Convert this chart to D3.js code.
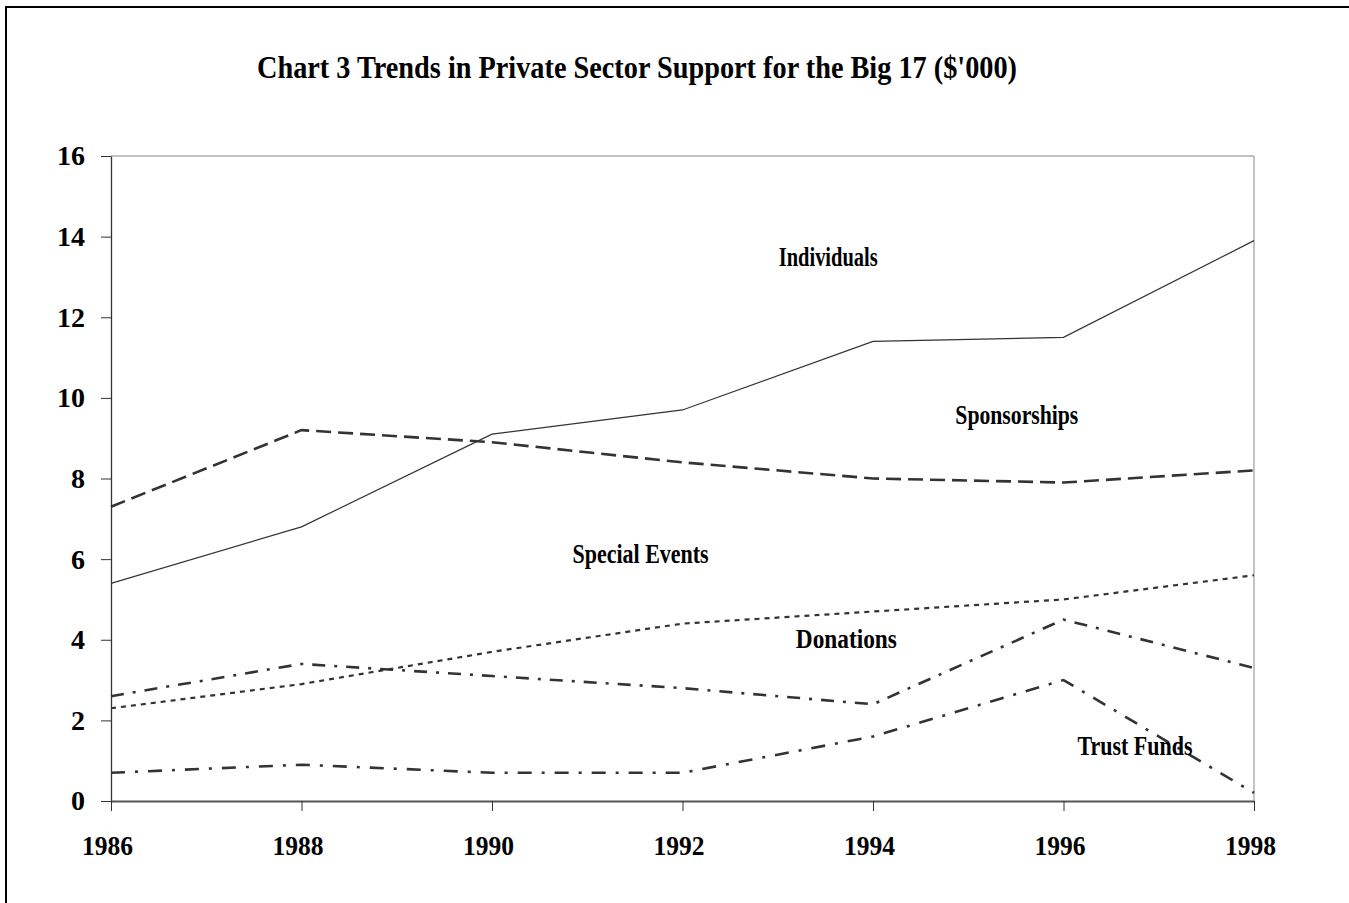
<!DOCTYPE html>
<html>
<head>
<meta charset="utf-8">
<script src="https://cdn.jsdelivr.net/npm/d3@7"></script>
<style>
  body { margin: 0; background: #fff; }
  text { font-family: "Liberation Serif", "Times New Roman", serif; font-weight: bold; fill: #000; }
</style>
</head>
<body>
<div id="chart"></div>
<script>
// data
var years = [1986, 1988, 1990, 1992, 1994, 1996, 1998];
var individuals = [5.4, 6.8, 9.1, 9.7, 11.4, 11.5, 13.9];
var sponsorships = [7.3, 9.2, 8.9, 8.4, 8.0, 7.9, 8.2];
var specialEvents = [2.3, 2.9, 3.7, 4.4, 4.7, 5.0, 5.6];
var donations = [2.6, 3.4, 3.1, 2.8, 2.4, 4.5, 3.3];
var trustFunds = [0.7, 0.9, 0.7, 0.7, 1.6, 3.0, 0.2];
var yTicks = [0, 2, 4, 6, 8, 10, 12, 14, 16];
var seriesNames = ["Individuals", "Sponsorships", "Special Events", "Donations", "Trust Funds"];

var svgWidth = 1349;
var svgHeight = 903;
var plot = { left: 111, right: 1254, top: 156, bottom: 801 };

var svg = d3.select("#chart")
    .append("svg")
    .attr("width", svgWidth)
    .attr("height", svgHeight);

// outer frame (runs off right and bottom edges)
svg.append("rect")
    .attr("x", 6).attr("y", 7)
    .attr("width", 1360).attr("height", 920)
    .attr("fill", "none")
    .attr("stroke", "#000")
    .attr("stroke-width", 2);

var x = d3.scaleLinear().domain([1986, 1998]).range([plot.left, plot.right]);
var y = d3.scaleLinear().domain([0, 16]).range([plot.bottom, plot.top]);

// plot border top/right
svg.append("path")
    .attr("d", `M${plot.left},${plot.top}H${plot.right}V${plot.bottom}`)
    .attr("fill", "none")
    .attr("stroke", "#888")
    .attr("stroke-width", 1);

// y axis
var yAxis = svg.append("g")
    .attr("transform", `translate(${plot.left},0)`)
    .call(d3.axisLeft(y).tickValues(yTicks).tickSize(10).tickPadding(16).tickSizeOuter(0));
yAxis.select(".domain").attr("stroke", "#333").attr("stroke-width", 1.3);
yAxis.selectAll(".tick line").attr("stroke", "#333");
yAxis.selectAll("text")
    .attr("font-family", null)
    .style("font-size", "28px");

// x axis
var xAxis = svg.append("g")
    .attr("transform", `translate(0,${plot.bottom})`)
    .call(d3.axisBottom(x).tickValues(years).tickFormat(d3.format("d")).tickSize(10).tickSizeOuter(0));
xAxis.select(".domain").attr("stroke", "#555").attr("stroke-width", 2);
xAxis.selectAll(".tick line").attr("stroke", "#333");
xAxis.selectAll("text")
    .attr("font-family", null)
    .attr("dy", null)
    .attr("x", -4)
    .attr("y", 54)
    .attr("textLength", 51)
    .attr("lengthAdjust", "spacingAndGlyphs")
    .style("font-size", "28px");
svg.selectAll(".tick text").attr("fill", "#000");

// lines
var seriesData = [individuals, sponsorships, specialEvents, donations, trustFunds];
var styles = [
    { w: 1.2, dash: null },
    { w: 2.6, dash: "15,7" },
    { w: 2.2, dash: "5,5" },
    { w: 2.6, dash: "13,9,3,9" },
    { w: 2.6, dash: "14,10,3,10" }
];

var line = d3.line()
    .x((d, i) => x(years[i]))
    .y(d => y(d));

svg.selectAll(".series")
    .data(seriesData)
    .enter()
    .append("path")
    .attr("class", "series")
    .attr("d", line)
    .attr("fill", "none")
    .attr("stroke", "#333")
    .attr("stroke-width", (d, i) => styles[i].w)
    .attr("stroke-dasharray", (d, i) => styles[i].dash);

// series labels, placed in data units
var labelAt = [
    { year: 1993.53, val: 13.27, len: 99 },
    { year: 1995.51, val: 9.35, len: 123 },
    { year: 1991.56, val: 5.90, len: 136 },
    { year: 1993.72, val: 3.80, len: 101 },
    { year: 1996.75, val: 1.14, len: 115 }
];
svg.selectAll(".label")
    .data(seriesNames)
    .enter()
    .append("text")
    .attr("class", "label")
    .attr("x", (d, i) => x(labelAt[i].year))
    .attr("y", (d, i) => y(labelAt[i].val))
    .attr("text-anchor", "middle")
    .attr("textLength", (d, i) => labelAt[i].len)
    .attr("lengthAdjust", "spacingAndGlyphs")
    .style("font-size", "27px")
    .text(d => d);

// title
svg.append("text")
    .attr("x", 257)
    .attr("y", 78)
    .attr("textLength", 760)
    .attr("lengthAdjust", "spacingAndGlyphs")
    .style("font-size", "32px")
    .text("Chart 3 Trends in Private Sector Support for the Big 17 ($'000)");
</script>
</body>
</html>
